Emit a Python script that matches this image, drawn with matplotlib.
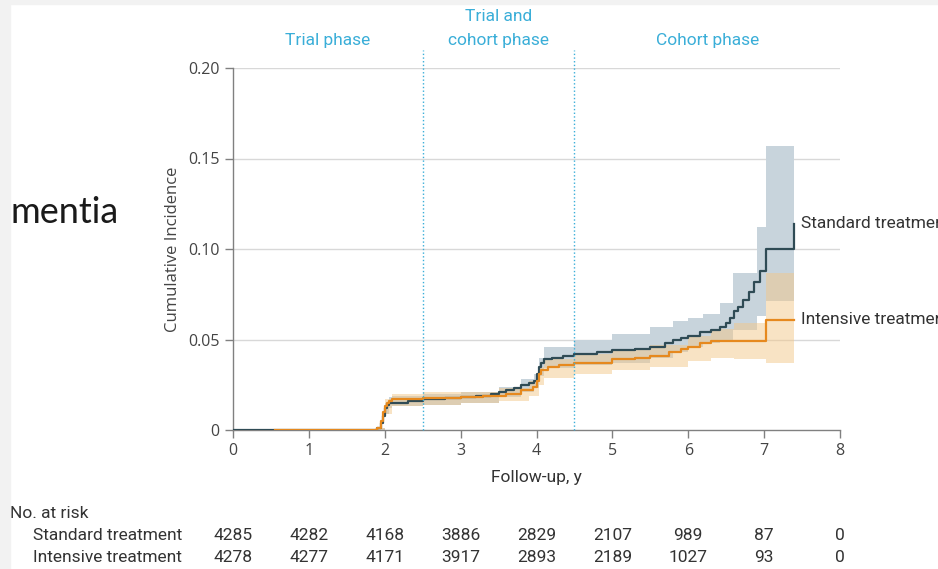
import matplotlib
matplotlib.use("Agg")
import matplotlib.pyplot as plt
import matplotlib.transforms as mtransforms
from matplotlib.patches import Rectangle

# ---- data ----
t_std = [0, 1.9, 1.95, 1.98, 2.0, 2.03, 2.06, 2.1, 2.3, 2.5, 2.8, 3.0, 3.2, 3.4, 3.5, 3.6, 3.7, 3.8,
         3.9, 3.97, 4.0, 4.03, 4.06, 4.1, 4.2, 4.35, 4.5, 4.8, 5.0, 5.3, 5.5, 5.7, 5.8, 5.9, 6.0, 6.15,
         6.3, 6.42, 6.5, 6.55, 6.6, 6.65, 6.72, 6.8, 6.87, 6.95, 7.03, 7.4]
y_std = [0, 0.001, 0.004, 0.008, 0.012, 0.014, 0.015, 0.015, 0.016, 0.017, 0.0175, 0.018, 0.019, 0.020,
         0.021, 0.022, 0.023, 0.025, 0.026, 0.027, 0.031, 0.035, 0.037, 0.039, 0.040, 0.041, 0.042, 0.043,
         0.044, 0.045, 0.046, 0.048, 0.050, 0.051, 0.052, 0.054, 0.055, 0.057, 0.059, 0.062, 0.066, 0.068,
         0.072, 0.076, 0.082, 0.088, 0.100, 0.114]

tb_std = [0, 1.9, 2.0, 2.06, 2.1, 2.5, 3.0, 3.5, 3.8, 3.97, 4.03, 4.1, 4.5, 5.0, 5.5, 5.8, 6.0, 6.2,
          6.42, 6.59, 6.9, 7.03, 7.4]
lo_std = [0, 0, 0.009, 0.012, 0.013, 0.014, 0.015, 0.018, 0.021, 0.023, 0.030, 0.034, 0.036, 0.037,
          0.040, 0.043, 0.046, 0.048, 0.050, 0.055, 0.063, 0.071, 0.071]
hi_std = [0, 0.001, 0.015, 0.018, 0.019, 0.020, 0.021, 0.024, 0.028, 0.031, 0.040, 0.046, 0.050, 0.053,
          0.057, 0.060, 0.062, 0.064, 0.070, 0.087, 0.112, 0.157, 0.157]

t_int = [0.55, 1.9, 1.95, 1.98, 2.0, 2.03, 2.06, 2.1, 2.5, 3.0, 3.3, 3.6, 3.8, 3.95, 4.0, 4.03, 4.06,
         4.15, 4.3, 4.5, 5.0, 5.3, 5.5, 5.75, 5.9, 6.0, 6.15, 6.3, 7.03, 7.4]
y_int = [0, 0.001, 0.005, 0.010, 0.013, 0.015, 0.016, 0.017, 0.0175, 0.018, 0.019, 0.020, 0.022, 0.024,
         0.027, 0.031, 0.033, 0.035, 0.036, 0.037, 0.039, 0.040, 0.041, 0.043, 0.045, 0.046, 0.048, 0.049,
         0.061, 0.061]

tb_int = [0.55, 1.9, 2.0, 2.1, 2.5, 3.0, 3.5, 3.9, 4.03, 4.1, 4.5, 5.0, 5.5, 6.0, 6.3, 6.6, 7.03, 7.4]
lo_int = [0, 0, 0.009, 0.013, 0.014, 0.015, 0.016, 0.019, 0.025, 0.029, 0.031, 0.033, 0.035, 0.038,
          0.040, 0.039, 0.037, 0.037]
hi_int = [0, 0.001, 0.017, 0.020, 0.021, 0.021, 0.023, 0.027, 0.035, 0.039, 0.042, 0.044, 0.047, 0.052,
          0.056, 0.059, 0.087, 0.087]

risk_years = [0, 1, 2, 3, 4, 5, 6, 7, 8]
risk_std = [4285, 4282, 4168, 3886, 2829, 2107, 989, 87, 0]
risk_int = [4278, 4277, 4171, 3917, 2893, 2189, 1027, 93, 0]

phase_cuts = [2.5, 4.5]

# ---- styling ----
c_std = '#2f4b55'
c_std_band = '#c8d4dc'
c_int = '#e6891e'
c_int_band = '#f3c88a'
c_phase = '#3aaed8'
c_text = '#333333'
narrow = ['Roboto', 'DejaVu Sans']
regular = ['Open Sans', 'DejaVu Sans']
fs = 12.5

fig = plt.figure(figsize=(9.38, 5.69), dpi=100)
fig.patch.set_facecolor('white')
ax = fig.add_axes([233/938, 1-430/569, 607/938, 362/569])

# grid lines
for g in [0.05, 0.10, 0.15, 0.20]:
    ax.axhline(g, color='#d8d8d8', lw=1.0, zorder=0)

ax.fill_between(tb_std, lo_std, hi_std, step='post', color=c_std_band, lw=0, zorder=1)
ax.fill_between(tb_int, lo_int, hi_int, step='post', color=c_int_band, alpha=0.5, lw=0, zorder=2)
ax.step(t_std, y_std, where='post', color=c_std, lw=1.6, zorder=3)
ax.step(t_int, y_int, where='post', color=c_int, lw=1.6, zorder=4)

for xc in phase_cuts:
    ax.plot([xc, xc], [0, 0.21], ls=':', color=c_phase, lw=1.0, clip_on=False, zorder=5)

ax.set_xlim(0, 8)
ax.set_ylim(0, 0.20)
ax.set_xticks(range(0, 9))
ax.set_yticks([0, 0.05, 0.10, 0.15, 0.20])
ax.set_yticklabels(['0', '0.05', '0.10', '0.15', '0.20'])
for s in ['top', 'right']:
    ax.spines[s].set_visible(False)
for s in ['left', 'bottom']:
    ax.spines[s].set_color('#808080')
    ax.spines[s].set_linewidth(1.0)
ax.tick_params(colors='#808080', length=6, width=1.0, labelcolor='#444444', labelsize=11.5)
for lab in ax.get_xticklabels() + ax.get_yticklabels():
    lab.set_family(regular)
ax.set_ylabel('Cumulative Incidence', family=regular, fontsize=12, color='#444444', labelpad=5)
ax.set_xlabel('Follow-up, y', family=narrow, fontsize=fs, color=c_text, labelpad=8)

# phase headers
ax.text(1.25, 0.215, 'Trial phase', ha='center', va='center', color=c_phase, family=narrow, fontsize=fs)
ax.text(3.5, 0.2285, 'Trial and', ha='center', va='center', color=c_phase, family=narrow, fontsize=fs)
ax.text(3.5, 0.215, 'cohort phase', ha='center', va='center', color=c_phase, family=narrow, fontsize=fs)
ax.text(6.25, 0.215, 'Cohort phase', ha='center', va='center', color=c_phase, family=narrow, fontsize=fs)

# end labels (cut by the right edge, as in the source slide)
ax.text(7.48, y_std[-1], 'Standard treatment', ha='left', va='center', color=c_text,
        family=narrow, fontsize=fs, clip_on=False)
ax.text(7.48, y_int[-1], 'Intensive treatment', ha='left', va='center', color=c_text,
        family=narrow, fontsize=fs, clip_on=False)

# risk table
tr = mtransforms.blended_transform_factory(ax.transData, fig.transFigure)
fig.text(10/938, 1-513/569, 'No. at risk', ha='left', va='center', color=c_text, family=narrow, fontsize=fs)
fig.text(33/938, 1-536/569, 'Standard treatment', ha='left', va='center', color=c_text, family=narrow, fontsize=fs)
fig.text(33/938, 1-557/569, 'Intensive treatment', ha='left', va='center', color=c_text, family=narrow, fontsize=fs)
for xv, a, b in zip(risk_years, risk_std, risk_int):
    ax.text(xv, 1-536/569, str(a), transform=tr, ha='center', va='center', color=c_text,
            family=narrow, fontsize=fs, clip_on=False)
    ax.text(xv, 1-557/569, str(b), transform=tr, ha='center', va='center', color=c_text,
            family=narrow, fontsize=fs, clip_on=False)

# slide leftovers: title fragment and grey border
fig.text(10/938, 1-223/569, 'mentia', ha='left', va='baseline', color='#1a1a1a', family=['Lato', 'DejaVu Sans'],
         fontsize=26)
fig.patches.append(Rectangle((0, 0), 10/938, 1, transform=fig.transFigure, color='#f2f2f2', zorder=10))
fig.patches.append(Rectangle((0, 1-4/569), 1, 4/569, transform=fig.transFigure, color='#f2f2f2', zorder=10))

fig.savefig('out.png', dpi=100)
